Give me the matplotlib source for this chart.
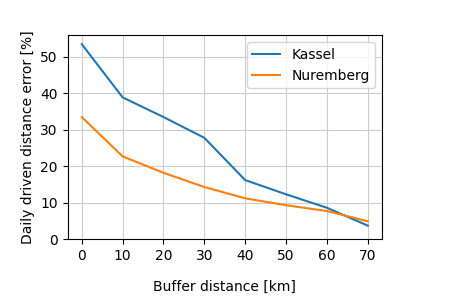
import matplotlib
matplotlib.use("Agg")
import matplotlib.pyplot as plt

buffer_km = [0, 10, 20, 30, 40, 50, 60, 70]
kassel = [53.5, 38.9, 33.5, 27.8, 16.2, 12.3, 8.6, 3.7]
nuremberg = [33.5, 22.7, 18.2, 14.3, 11.2, 9.3, 7.7, 4.9]

fig = plt.figure(figsize=(4.5, 3.0), dpi=100)
ax = fig.add_axes([0.15, 0.203, 0.699, 0.68])
ax.plot(buffer_km, kassel, label="Kassel", color="#1f77b4")
ax.plot(buffer_km, nuremberg, label="Nuremberg", color="#ff7f0e")
ax.set_xlabel("Buffer distance [km]", labelpad=12)
ax.set_ylabel("Daily driven distance error [%]")
ax.set_xticks(buffer_km)
ax.set_ylim(0, 56)
ax.grid(True, color="#cccccc")
ax.legend(loc="upper right")
fig.savefig("out.png", dpi=100)
